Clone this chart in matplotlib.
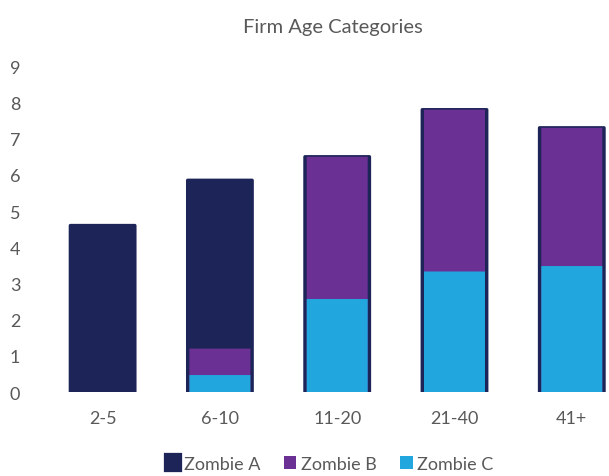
import matplotlib.pyplot as plt
from matplotlib.patches import Patch

plt.rcParams['font.family'] = ['Lato', 'DejaVu Sans']

# firm age buckets and zombie shares per definition
categorias = ['2-5', '6-10', '11-20', '21-40', '41+']
zombie_a = [4.6, 5.85, 6.5, 7.8, 7.3]
zombie_b = [0.0, 1.2, 6.5, 7.8, 7.3]
zombie_c = [0.0, 0.47, 2.57, 3.33, 3.48]
yticks = list(range(0, 10))

cor_a = '#1d2458'
cor_b = '#6a3093'
cor_c = '#22a6de'
cinza = '#595959'

fig = plt.figure(figsize=(6.09, 4.77), dpi=100)
ax = fig.add_axes([0.0722, 0.176, 0.963, 0.683])

x = range(len(categorias))
# bars overlap: A behind, then B, then C in front
ax.bar(x, zombie_a, width=0.55, color=cor_a, edgecolor=cor_a, linewidth=2.4,
       joinstyle='round', zorder=2, snap=False)
ax.bar(x, zombie_b, width=0.52, color=cor_b, linewidth=0, zorder=3, snap=False)
ax.bar(x, zombie_c, width=0.52, color=cor_c, linewidth=0, zorder=4, snap=False)

ax.set_xlim(-0.5, 4.5)
ax.set_ylim(0, 9)
ax.set_yticks(yticks)
ax.set_xticks(list(x))
ax.set_xticklabels(categorias)
ax.tick_params(axis='both', length=0, labelsize=13, labelcolor=cinza)
ax.tick_params(axis='y', pad=17)
ax.tick_params(axis='x', pad=13)
for s in ax.spines.values():
    s.set_visible(False)

fig.text(0.547, 0.942, 'Firm Age Categories', ha='center', va='center',
         fontsize=14.5, color=cinza)

handles = [Patch(facecolor=cor_a, edgecolor=cor_a, linewidth=4.5,
                 joinstyle='round', label='Zombie A'),
           Patch(facecolor=cor_b, label='Zombie B'),
           Patch(facecolor=cor_c, label='Zombie C')]
leg = fig.legend(handles=handles, loc='center', bbox_to_anchor=(0.542, 0.025),
                 ncol=3, frameon=False, fontsize=13, handlelength=0.7,
                 handleheight=0.7, handletextpad=0.25, columnspacing=1.3)
for t in leg.get_texts():
    t.set_color(cinza)

fig.savefig('out.png', dpi=100)
